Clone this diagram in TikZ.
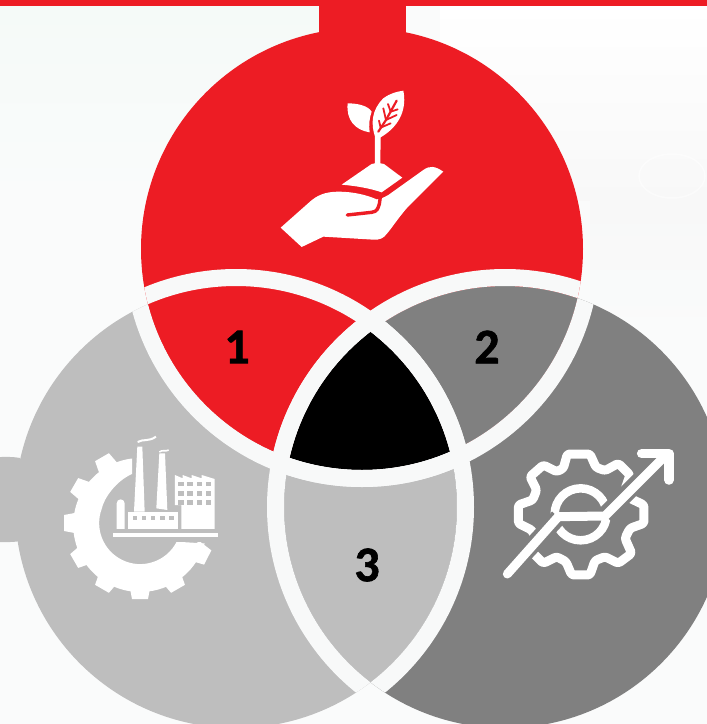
\documentclass[tikz,border=0pt]{standalone}
\usepackage{fontspec}
\setmainfont{Carlito}
\newfontfamily\digfont[FakeBold=1.2]{Carlito Bold}
\definecolor{myred}{HTML}{ED1C24}
\definecolor{lgrey}{HTML}{BEBEBE}
\definecolor{dgrey}{HTML}{808080}
\definecolor{bgc}{HTML}{FAFBFB}
\definecolor{bgtl}{HTML}{F5FAF8}
\definecolor{bgr}{HTML}{F8F8F8}
\definecolor{ringc}{HTML}{F8F9F9}
\def\cT{(362,249) circle (221)}
\def\cL{(236,507) circle (221)}
\def\cR{(505,507) circle (221)}
\def\rT{(362,249) circle (229.5)}
\def\rL{(236,507) circle (229.5)}
\def\rR{(505,507) circle (229.5)}
\tikzset{
  ringline/.style={draw=ringc,line width=17pt},
  zoomA/.style={shift={(260pt,-80pt)},x=0.3333pt,y=-0.3333pt},
  zoomB/.style={shift={(50pt,-430pt)},x=0.3333pt,y=-0.3333pt},
  zoomC/.style={shift={(490pt,-430pt)},x=0.3333pt,y=-0.3333pt},
  digit/.style={font=\digfont\fontsize{50}{50}\selectfont,text=black,inner sep=0pt}
}
\begin{document}
\begin{tikzpicture}[x=1pt,y=-1pt]
\useasboundingbox (0,0) rectangle (707,724);
% background
\fill[bgc] (0,0) rectangle (707,724);
\shade[top color=bgtl,bottom color=bgc] (0,5) rectangle (330,200);
\shade[top color=white,bottom color=bgr] (440,5) rectangle (707,200);
\shade[top color=bgr,bottom color=bgc] (590,200) rectangle (707,340);
\draw[white,line width=1.5pt,opacity=.5] (672,176) ellipse (33 and 22);
% bar + stem + knob
\fill[myred] (0,0) rectangle (707,5.5);
\fill[myred] (319,0) rectangle (405.5,60);
\fill[lgrey] (0,457) to[out=0,in=170] (20,458) -- (20,541) to[out=190,in=0] (0,542) -- cycle;
% circles
\fill[lgrey] \cL;
\fill[dgrey] \cR;
\fill[myred] \cT;
% overlaps
\begin{scope}\clip \cT; \fill[dgrey] \cR; \end{scope}
\begin{scope}\clip \cT; \fill[myred] \cL; \end{scope}
\begin{scope}\clip \cL; \fill[lgrey] \cR; \end{scope}
\begin{scope}\clip \cT; \clip \cL; \fill[black] \cR; \end{scope}
% rings
\begin{scope}\clip \cL; \draw[ringline] \rT; \draw[ringline] \rR; \end{scope}
\begin{scope}\clip \cR; \draw[ringline] \rT; \draw[ringline] \rL; \end{scope}
\begin{scope}\clip \cT; \draw[ringline] \rL; \draw[ringline] \rR; \end{scope}
% labels
\node[digit] (one) at (237,347) {1};
\node[digit] (two) at (487,347) {2};
\node[digit] (three) at (367,565) {3};
% hand and plant
\begin{scope}[zoomA]
  \fill[white] (62,443) -- (150,365) .. controls (170,347) and (195,335) .. (235,335)
     .. controls (280,335) and (320,345) .. (350,358) .. controls (362,358) and (372,352) .. (385,345)
     -- (490,270) .. controls (510,256) and (525,258) .. (550,275)
     -- (440,385) .. controls (410,420) and (395,445) .. (380,462) .. controls (370,475) and (360,480) .. (340,479)
     -- (190,470) -- (125,501) -- cycle;
  \draw[myred,line width=3.4pt,line cap=round,line join=round] (262,405) -- (335,397) .. controls (352,395) and (354,385) .. (358,372) -- (362,345);
  \draw[myred,line width=2.6pt] (245,317) .. controls (290,320) and (330,330) .. (362,342);
  \fill[white] (245,314) -- (335,252) -- (345,250) -- (345,170) .. controls (332,130) and (335,90) .. (370,55)
     .. controls (390,40) and (410,35) .. (430,32) .. controls (440,80) and (425,135) .. (362,172)
     -- (361,250) -- (372,252) -- (427,293) -- (365,337) .. controls (330,325) and (290,318) .. (245,314) -- cycle;
  \draw[myred,line width=2.2pt,line cap=round,line join=round] (355,155) -- (378,120) -- (410,62);
  \draw[myred,line width=1.8pt,line cap=round] (362,143) -- (357,122) (362,143) -- (392,130) (378,120) -- (370,85) (378,120) -- (410,105) (392,95) -- (384,72) (392,95) -- (413,88);
  \fill[white] (263,70) .. controls (295,70) and (325,78) .. (335,95) .. controls (328,115) and (326,135) .. (329,157) .. controls (285,150) and (258,120) .. (263,70) -- cycle;
\end{scope}
% factory gear
\begin{scope}[shift={(140pt,-523pt)},x=1pt,y=-1pt]
  \fill[white] (263:65) arc[start angle=263,end angle=16,radius=67] -- (36.7,18.7)
     arc[start angle=27,end angle=200,radius=41] .. controls (-36,-25) and (-24,-42) .. (-8,-49) -- cycle;
  \foreach \a in {240,210,180,150,120,90,60,27}{
    \begin{scope}[rotate=-\a]
      \fill[white] (60,-11) -- (76,-8) -- (76,8) -- (60,11) -- cycle;
    \end{scope}
  }
\end{scope}
\begin{scope}[zoomB]
  \fill[lgrey] (245,160) rectangle (380,335);
  \fill[lgrey] (380,110) rectangle (510,335);
  \fill[white] (190,308) rectangle (505,320);
  \fill[white] (200,297) -- (200,220) arc[start angle=180,end angle=360,radius=12] -- (224,297) -- cycle;
  \fill[white] (235,245) rectangle (385,297);
  \fill[white] (252,245) -- (262,50) -- (277,50) -- (284,245) -- cycle;
  \fill[white] (319,235) -- (328,70) -- (345,70) -- (352,240) -- cycle;
  \draw[white,line width=2pt] (263,36) .. controls (280,26) and (295,36) .. (318,20);
  \draw[white,line width=1.6pt] (328,66) .. controls (338,58) and (345,66) .. (356,60);
  \fill[white] (375,225) -- (375,135) -- (398,145) -- (398,135) -- (425,145) -- (425,135) -- (455,145) -- (455,135) -- (494,147) -- (494,297) -- (394,297) -- (394,225) -- cycle;
  \foreach \x in {248,275,302,330,358}{\fill[lgrey] (\x,258) rectangle +(14,13);}
  \foreach \x in {385,412,440,467}{\foreach \y in {155,183,210}{\fill[lgrey] (\x,\y) rectangle +(16,14);}}
\end{scope}
% arrow gear
\begin{scope}[zoomC]
  \draw[white,line width=9pt,line join=round,rounded corners=2.5pt]
   (232,72) -- (300,72) -- (318,112) -- (345,122) -- (385,100) -- (420,135) -- (405,178) -- (420,205)
   -- (462,225) -- (462,280) -- (420,295) -- (405,325) -- (425,370) -- (385,400) -- (345,380) -- (315,392)
   -- (300,435) -- (245,435) -- (228,395) -- (200,380) -- (160,400) -- (125,365) -- (140,330) -- (125,300)
   -- (85,280) -- (85,225) -- (128,210) -- (140,180) -- (120,140) -- (160,105) -- (200,125) -- (220,115) -- cycle;
  \draw[white,line width=8.5pt] (272,253) circle (78);
  \draw[dgrey,line width=17pt] (30,450) -- (205,262);
  \draw[dgrey,line width=17pt] (345,255) -- (520,80);
  \draw[white,line width=9pt,line cap=round,line join=round] (52,432) -- (205,260) -- (345,258) -- (525,78);
  \draw[white,line width=9.5pt,line cap=round,line join=round] (455,71) -- (537,71) -- (537,150);
\end{scope}
\end{tikzpicture}
\end{document}
